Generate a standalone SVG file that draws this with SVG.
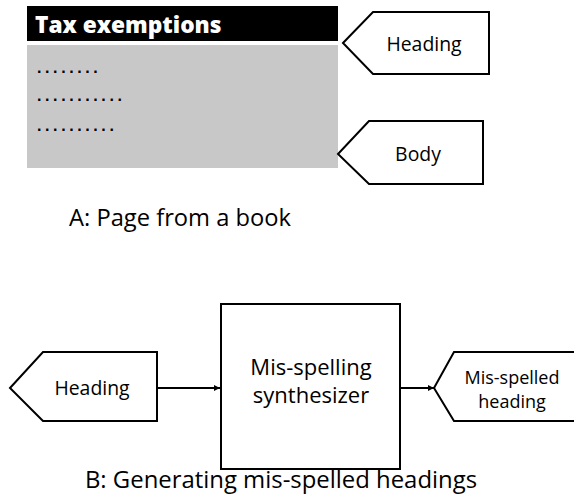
<svg xmlns="http://www.w3.org/2000/svg" width="574" height="495" viewBox="0 0 574 495">
<style>
.lbl{font-family:"Open Sans","Noto Sans",sans-serif;fill:#000;text-anchor:middle}
.shape{fill:#fff;stroke:#000;stroke-width:2}
.dots{font-family:"Liberation Sans",sans-serif;font-size:16px;font-weight:bold;letter-spacing:3.6px;fill:#000}
</style>
<defs>
<marker id="ah" markerWidth="6" markerHeight="6" refX="6" refY="3" orient="auto" markerUnits="userSpaceOnUse">
<path d="M0,0 L6,3 L0,6 z" fill="#000"/>
</marker>
</defs>
<rect width="574" height="495" fill="#fff"/>
<g id="page">
<rect x="27" y="6" width="311" height="35" fill="#000"/>
<text x="35" y="33" font-family="'Open Sans','Noto Sans',sans-serif" font-weight="800" font-size="22.7" fill="#fff">Tax exemptions</text>
<rect x="27" y="45" width="311" height="123" fill="#c8c8c8"/>
<text class="dots" x="37" y="73">........</text>
<text class="dots" x="37" y="101">...........</text>
<text class="dots" x="37" y="131">..........</text>
</g>
<g id="heading-tag">
<polygon class="shape" points="343,43 373,12 489,12 489,74 373,74"/>
<text class="lbl" x="424" y="51" font-size="19.4">Heading</text>
</g>
<g id="body-tag">
<polygon class="shape" points="338,154 369,121 483,121 483,184 369,184"/>
<text class="lbl" x="418" y="161" font-size="19.4">Body</text>
</g>
<text class="lbl" x="180" y="226" font-size="23.7">A: Page from a book</text>
<g id="heading-in">
<polygon class="shape" points="10,388 43,352 157,352 157,421 43,421"/>
<text class="lbl" x="92" y="395" font-size="19.4">Heading</text>
</g>
<g id="synth">
<rect class="shape" x="221" y="304" width="179" height="165"/>
<text class="lbl" x="311" y="375" font-size="22">Mis-spelling</text>
<text class="lbl" x="311" y="403" font-size="22">synthesizer</text>
</g>
<g id="misspelled">
<polygon class="shape" points="434,388 454,352 580,352 580,421 454,421"/>
<text class="lbl" x="512" y="384" font-size="18">Mis-spelled</text>
<text class="lbl" x="512" y="408" font-size="18">heading</text>
</g>
<g id="connectors" stroke="#000" stroke-width="2" fill="none">
<line x1="157" y1="388" x2="220" y2="388" marker-end="url(#ah)"/>
<line x1="400" y1="388" x2="434" y2="388" marker-end="url(#ah)"/>
</g>
<text class="lbl" x="281" y="488" font-size="23.9">B: Generating mis-spelled headings</text>
</svg>
